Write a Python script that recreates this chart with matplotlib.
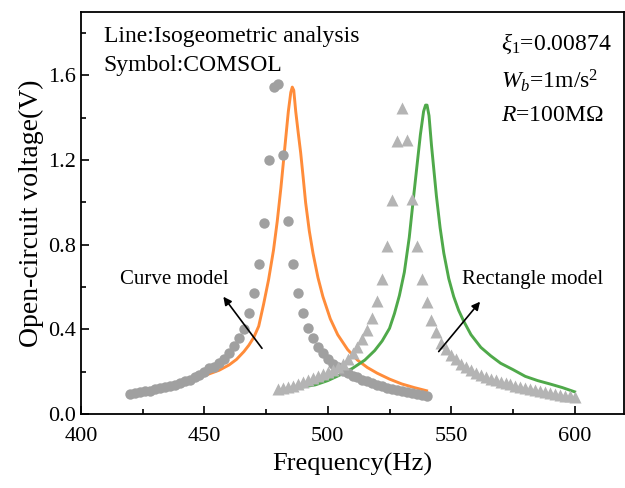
import matplotlib
matplotlib.use('Agg')
import matplotlib.pyplot as plt
from matplotlib.ticker import MultipleLocator, FormatStrFormatter

plt.rcParams['font.family'] = ['Liberation Serif', 'DejaVu Serif']
plt.rcParams['mathtext.fontset'] = 'custom'
plt.rcParams['mathtext.rm'] = 'Liberation Serif'
plt.rcParams['mathtext.it'] = 'Liberation Serif:italic'

# Isogeometric analysis, curve model (orange line)
iga_curve_f = [420, 430, 440, 448, 452, 456, 460, 463, 466, 468, 470, 472, 474, 476, 478,
               479.5, 481, 482, 483, 484, 485, 485.6, 486.2, 487, 488, 489, 490, 491,
               492.5, 494, 496, 498, 501, 504, 508, 512, 516, 520, 525, 530, 535, 540]
iga_curve_v = [0.097, 0.116, 0.142, 0.172, 0.19, 0.207, 0.232, 0.258, 0.295, 0.325, 0.362,
               0.415, 0.52, 0.635, 0.775, 0.91, 1.07, 1.19, 1.31, 1.43, 1.52, 1.545, 1.53,
               1.43, 1.33, 1.235, 1.12, 1.0, 0.865, 0.76, 0.645, 0.555, 0.45, 0.375, 0.305,
               0.255, 0.22, 0.193, 0.165, 0.142, 0.125, 0.11]

# Isogeometric analysis, rectangle model (green line)
iga_rect_f = [480, 485, 490, 495, 500, 505, 510, 515, 519, 522, 525, 527, 529, 531, 533,
              534.5, 536, 537.5, 538.8, 539.6, 540.2, 541, 542, 543, 544, 545.5, 547, 549,
              551, 553, 555, 558, 562, 566, 570, 575, 580, 585, 590, 595, 600]
iga_rect_v = [0.112, 0.12, 0.128, 0.138, 0.158, 0.185, 0.216, 0.255, 0.3, 0.345, 0.405,
              0.475, 0.56, 0.67, 0.835, 1.0, 1.16, 1.32, 1.43, 1.46, 1.46, 1.41, 1.27, 1.15,
              1.03, 0.88, 0.76, 0.64, 0.555, 0.49, 0.44, 0.375, 0.315, 0.275, 0.24, 0.21,
              0.178, 0.158, 0.142, 0.125, 0.105]

# COMSOL, curve model (circles), every 2 Hz from 420 to 540
comsol_curve_f = list(range(420, 541, 2))
comsol_curve_v = [0.095, 0.099, 0.103, 0.107, 0.111, 0.116, 0.121, 0.126, 0.132, 0.139,
                  0.146, 0.154, 0.163, 0.174, 0.186, 0.200, 0.216, 0.222, 0.240, 0.262,
                  0.290, 0.322, 0.360, 0.404, 0.476, 0.570, 0.708, 0.902, 1.202, 1.545,
                  1.560, 1.224, 0.912, 0.710, 0.572, 0.478, 0.406, 0.359, 0.319, 0.288,
                  0.258, 0.236, 0.220, 0.205, 0.193, 0.182, 0.173, 0.163, 0.155, 0.147,
                  0.138, 0.131, 0.125, 0.119, 0.114, 0.109, 0.104, 0.100, 0.096, 0.091,
                  0.087]

# COMSOL, rectangle model (triangles), every 2 Hz from 480 to 600
comsol_rect_f = list(range(480, 601, 2))
comsol_rect_v = [0.117, 0.121, 0.126, 0.132, 0.140, 0.150, 0.160, 0.170, 0.178, 0.187,
                 0.197, 0.208, 0.221, 0.238, 0.262, 0.288, 0.318, 0.354, 0.395, 0.452,
                 0.535, 0.640, 0.794, 1.012, 1.292, 1.445, 1.295, 1.015, 0.794, 0.636,
                 0.530, 0.446, 0.388, 0.335, 0.305, 0.280, 0.258, 0.238, 0.222, 0.208,
                 0.196, 0.185, 0.176, 0.167, 0.159, 0.152, 0.146, 0.140, 0.134, 0.128,
                 0.123, 0.118, 0.113, 0.108, 0.104, 0.100, 0.096, 0.091, 0.087, 0.083,
                 0.079]

fig = plt.figure(figsize=(6.25, 4.88), dpi=100)
ax = fig.add_axes([0.1296, 0.1516, 0.8688, 0.8238])

ax.plot(iga_curve_f, iga_curve_v, color='#FF8C3A', lw=2.1, zorder=2)
ax.plot(iga_rect_f, iga_rect_v, color='#4FA94A', lw=2.1, zorder=2)
ax.plot(comsol_curve_f, comsol_curve_v, 'o', color='#A0A0A0', ms=7.5, mec='none', zorder=3)
ax.plot(comsol_rect_f, comsol_rect_v, '^', color='#B4B4B4', ms=8, mec='none', zorder=3)

ax.set_xlim(400, 620)
ax.set_ylim(0, 1.9)
ax.xaxis.set_major_locator(MultipleLocator(50))
ax.xaxis.set_minor_locator(MultipleLocator(25))
ax.yaxis.set_major_locator(MultipleLocator(0.4))
ax.yaxis.set_minor_locator(MultipleLocator(0.2))
ax.yaxis.set_major_formatter(FormatStrFormatter('%.1f'))
ax.tick_params(which='both', direction='in', labelsize=16, width=1.2)
ax.tick_params(which='major', length=6)
ax.tick_params(which='minor', length=3.5)
ax.tick_params(axis='x', which='major', pad=9)
for sp in ax.spines.values():
    sp.set_linewidth(1.3)

ax.set_xlabel('Frequency(Hz)', fontsize=19, labelpad=5)
ax.set_ylabel('Open-circuit voltage(V)', fontsize=20, labelpad=3)

ax.text(0.042, 0.939, 'Line:Isogeometric analysis', transform=ax.transAxes,
        fontsize=17, va='center', ha='left')
ax.text(0.042, 0.868, 'Symbol:COMSOL', transform=ax.transAxes,
        fontsize=17, va='center', ha='left')

ax.text(0.773, 0.92, r'$\xi_1$=0.00874', transform=ax.transAxes, fontsize=17,
        va='center', ha='left')
ax.text(0.773, 0.83, r'$W_b$=1m/s$^2$', transform=ax.transAxes, fontsize=17,
        va='center', ha='left')
ax.text(0.773, 0.742, r'$R$=100M$\Omega$', transform=ax.transAxes, fontsize=17,
        va='center', ha='left')

ax.text(438, 0.636, 'Curve model', fontsize=15, ha='center', va='center')
ax.text(583, 0.636, 'Rectangle model', fontsize=15, ha='center', va='center')
ax.annotate('', xy=(457, 0.565), xytext=(474, 0.30),
            arrowprops=dict(arrowstyle='-|>', color='k', lw=1.2, mutation_scale=12))
ax.annotate('', xy=(562.4, 0.541), xytext=(544.2, 0.285),
            arrowprops=dict(arrowstyle='-|>', color='k', lw=1.2, mutation_scale=12))

fig.savefig('out.png', dpi=100)
